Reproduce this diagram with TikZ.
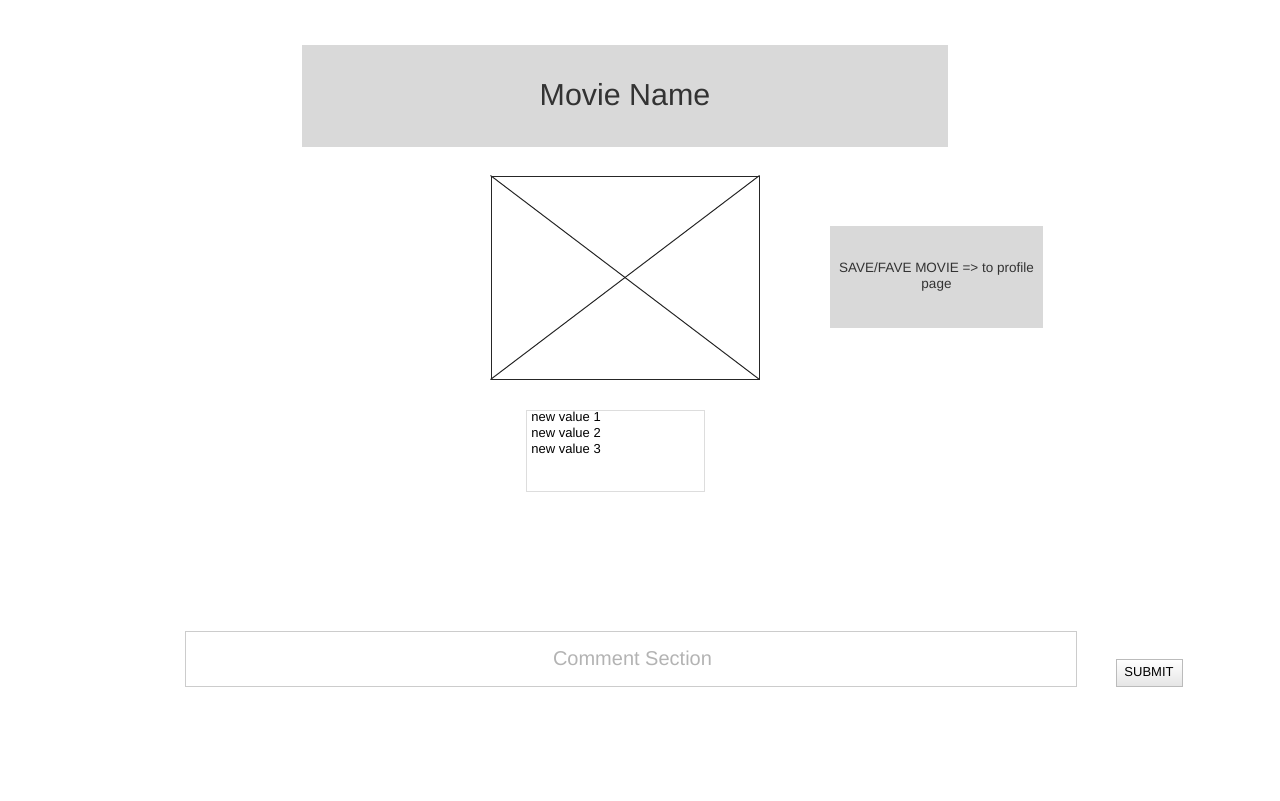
\documentclass[tikz,border=0pt]{standalone}
\usepackage{fontspec}
\setmainfont{Liberation Sans}
\usetikzlibrary{positioning}
\definecolor{panelgray}{HTML}{D9D9D9}
\definecolor{textgray}{HTML}{333333}
\definecolor{hintgray}{HTML}{B3B3B3}
\definecolor{fieldline}{HTML}{CCCCCC}
\definecolor{listline}{HTML}{DDDDDD}
\definecolor{buttonline}{HTML}{BBBBBB}
\tikzstyle{panel}=[rectangle,fill=panelgray,inner sep=0pt,outer sep=0pt,text=textgray]
\tikzstyle{field}=[rectangle,draw=fieldline,line width=0.5pt,inner sep=0pt,outer sep=0pt]
\tikzstyle{cross} = [draw,line width=0.5pt,color=black!85]
\tikzstyle{button}=[rectangle,draw=buttonline,line width=0.5pt,top color=white,bottom color=black!10,inner sep=0pt,outer sep=0pt,font=\fontsize{6.5}{8}\selectfont]

\begin{document}
\begin{tikzpicture}[x=0.5pt,y=-0.5pt]
    \useasboundingbox (0,0) rectangle (1280,800);

    \node[panel,minimum width=323pt,minimum height=51pt,font=\fontsize{15.2}{18}\selectfont] (title) at (625,96) {\raisebox{1.5pt}{Movie Name}};

    \node[rectangle,draw=black!85,line width=0.5pt,minimum width=134pt,minimum height=101.5pt,inner sep=0pt] (poster) at (625,277.5) {};
    \path[cross] (poster.north west) -- (poster.south east);
    \path[cross] (poster.south west) -- (poster.north east);

    \node[panel,minimum width=106.5pt,minimum height=51pt,align=center,font=\fontsize{6.75}{8}\selectfont] (save) at (936.5,277) {SAVE/FAVE MOVIE => to profile\\page};

    \node[field,draw=listline,minimum width=89pt,minimum height=40.5pt] (list) at (615,450.5) {};
    \node[anchor=north west,inner sep=0pt,align=left,font=\fontsize{6.5}{8}\selectfont] (items) at ([xshift=2.5pt,yshift=-1pt]list.north west) {new value 1\\new value 2\\new value 3};

    \node[field,minimum width=445.5pt,minimum height=27.5pt,text=hintgray,font=\fontsize{10}{12}\selectfont] (comment) at (630.5,658.5) {\raisebox{0.5pt}{\hspace{2pt}Comment Section}};

    \node[button,minimum width=33pt,minimum height=13.5pt] (submit) at (1149,672.5) {\raisebox{-0.5pt}{SUBMIT}};
\end{tikzpicture}
\end{document}
